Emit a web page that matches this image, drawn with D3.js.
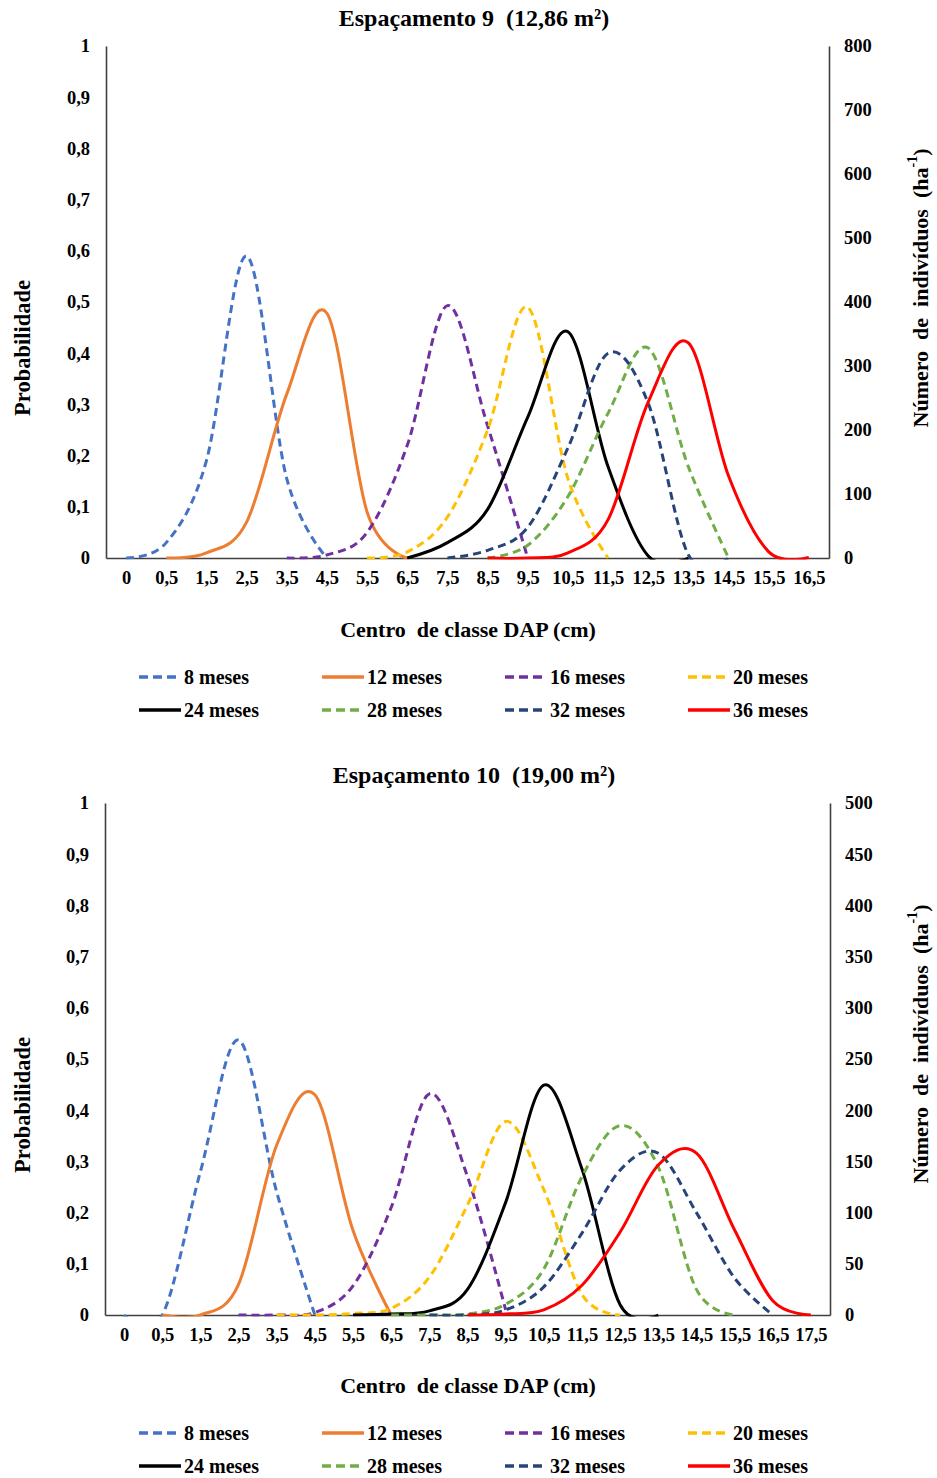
<!DOCTYPE html>
<html>
<head>
<meta charset="utf-8">
<script src="https://cdn.jsdelivr.net/npm/d3@7"></script>
<style>
  body { margin: 0; background: #fff; }
  svg { display: block; }
  text { font-family: "Liberation Serif", "Times New Roman", serif; font-weight: bold; fill: #000; white-space: pre; }
</style>
</head>
<body>
<svg id="chart" width="937" height="1478"></svg>
<script>
// ---- Data -------------------------------------------------------------
const seriesNames = ["8 meses", "12 meses", "16 meses", "20 meses",
                     "24 meses", "28 meses", "32 meses", "36 meses"];

const probTicks = [0, 0.1, 0.2, 0.3, 0.4, 0.5, 0.6, 0.7, 0.8, 0.9, 1];

// Espaçamento 9 (12,86 m²)
const classes9 = ["0", "0,5", "1,5", "2,5", "3,5", "4,5", "5,5", "6,5", "7,5",
                  "8,5", "9,5", "10,5", "11,5", "12,5", "13,5", "14,5", "15,5", "16,5"];
const ind9Ticks = [0, 100, 200, 300, 400, 500, 600, 700, 800];
const e9m08 = [0, 0.03, 0.19, 0.59, 0.155, 0, null, null, null, null, null, null, null, null, null, null, null, null];
const e9m12 = [null, 0, 0.01, 0.07, 0.32, 0.478, 0.09, 0, null, null, null, null, null, null, null, null, null, null];
const e9m16 = [null, null, null, null, 0, 0.006, 0.05, 0.22, 0.493, 0.258, 0, null, null, null, null, null, null, null];
const e9m20 = [null, null, null, null, null, null, 0, 0.012, 0.08, 0.25, 0.49, 0.155, 0, null, null, null, null, null];
const e9m24 = [null, null, null, null, null, null, null, 0, 0.03, 0.095, 0.275, 0.442, 0.178, 0.004, 0, null, null, null];
const e9m28 = [null, null, null, null, null, null, null, null, null, 0, 0.025, 0.12, 0.283, 0.41, 0.178, 0, null, null];
const e9m32 = [null, null, null, null, null, null, null, null, 0, 0.015, 0.06, 0.215, 0.4, 0.302, 0.006, 0, null, null];
const e9m36 = [null, null, null, null, null, null, null, null, null, 0, 0, 0.01, 0.075, 0.305, 0.42, 0.16, 0.012, 0.001];

// Espaçamento 10 (19,00 m²)
const classes10 = ["0", "0,5", "1,5", "2,5", "3,5", "4,5", "5,5", "6,5", "7,5", "8,5",
                   "9,5", "10,5", "11,5", "12,5", "13,5", "14,5", "15,5", "16,5", "17,5"];
const ind10Ticks = [0, 50, 100, 150, 200, 250, 300, 350, 400, 450, 500];
const e10m08 = [0, 0, 0.28, 0.537, 0.24, 0, null, null, null, null, null, null, null, null, null, null, null, null, null];
const e10m12 = [null, 0, 0, 0.06, 0.332, 0.43, 0.165, 0, null, null, null, null, null, null, null, null, null, null, null];
const e10m16 = [null, null, null, 0, 0, 0.005, 0.057, 0.21, 0.432, 0.27, 0.01, null, null, null, null, null, null, null, null];
const e10m20 = [null, null, null, null, 0, 0, 0.003, 0.013, 0.074, 0.215, 0.378, 0.245, 0.04, 0, null, null, null, null, null];
const e10m24 = [null, null, null, null, null, null, 0, 0.002, 0.008, 0.05, 0.22, 0.449, 0.285, 0.02, 0, null, null, null, null];
const e10m28 = [null, null, null, null, null, null, null, 0, 0, 0.002, 0.021, 0.09, 0.27, 0.37, 0.289, 0.05, 0, null, null];
const e10m32 = [null, null, null, null, null, null, null, null, 0, 0, 0.01, 0.055, 0.16, 0.283, 0.316, 0.2, 0.072, 0, null];
const e10m36 = [null, null, null, null, null, null, null, null, null, 0, 0.002, 0.01, 0.058, 0.162, 0.293, 0.316, 0.166, 0.028, 0];

// ---- Styles -----------------------------------------------------------
const seriesColors = ["#4472C4", "#ED7D31", "#7030A0", "#FFC000",
                      "#000000", "#70AD47", "#264478", "#FF0000"];
const seriesDash = ["8,5", null, "8,5", "8,5", null, "8,5", "8,5", null];
const AXIS_COLOR = "#404040";

const svg = d3.select("#chart");
const fmt = d => String(d).replace(".", ",");

function drawPanel(cfg) {
  const g = svg.append("g");
  const { left, right, top, bottom } = cfg;

  const x = d3.scalePoint().domain(cfg.classes).range([left, right]).padding(0.5);
  const y = d3.scaleLinear().domain([0, 1]).range([bottom, top]);
  const yR = d3.scaleLinear().domain([0, d3.max(cfg.rightTicks)]).range([bottom, top]);

  // Title
  g.append("text")
    .attr("x", cfg.titleX).attr("y", cfg.titleY)
    .attr("text-anchor", "middle")
    .style("font-size", "24px")
    .text(cfg.title);

  // Axes
  const axL = g.append("g").attr("transform", `translate(${left},0)`)
    .call(d3.axisLeft(y).tickValues(probTicks).tickFormat(fmt).tickSize(0).tickSizeOuter(0).tickPadding(16));
  const axR = g.append("g").attr("transform", `translate(${right},0)`)
    .call(d3.axisRight(yR).tickValues(cfg.rightTicks).tickSize(0).tickSizeOuter(0).tickPadding(15));
  const axB = g.append("g").attr("transform", `translate(0,${bottom})`)
    .call(d3.axisBottom(x).tickSize(0).tickSizeOuter(0).tickPadding(13));
  [axL, axR, axB].forEach(a => {
    a.select(".domain").attr("stroke", AXIS_COLOR).attr("stroke-width", 1.6);
    a.selectAll("text").style("font-size", "18.5px").style("font-family", null).attr("fill", "#000");
  });

  // Axis titles
  g.append("text")
    .attr("transform", `translate(${cfg.leftTitle[0]},${cfg.leftTitle[1]}) rotate(-90)`)
    .attr("text-anchor", "middle").attr("dominant-baseline", "central")
    .style("font-size", "22.5px")
    .text("Probabilidade");
  const rt = g.append("text")
    .attr("transform", `translate(${cfg.rightTitle[0]},${cfg.rightTitle[1]}) rotate(-90)`)
    .attr("text-anchor", "middle").attr("dominant-baseline", "central")
    .style("font-size", "22px");
  rt.append("tspan").text("Número  de  indivíduos  (ha");
  rt.append("tspan").attr("baseline-shift", "super").style("font-size", "14px").text("-1");
  rt.append("tspan").text(")");

  g.append("text")
    .attr("x", cfg.xTitle[0]).attr("y", cfg.xTitle[1])
    .attr("text-anchor", "middle")
    .style("font-size", "22px")
    .text("Centro  de classe DAP (cm)");

  // Curves, clipped to the plot area like the smoothed spreadsheet lines
  const clipId = "clip-" + cfg.id;
  g.append("clipPath").attr("id", clipId)
    .append("rect")
    .attr("x", left).attr("y", top - 4)
    .attr("width", right - left).attr("height", bottom - top + 5.5);

  const line = d3.line()
    .defined(d => d.v != null)
    .x(d => x(d.c))
    .y(d => y(d.v))
    .curve(d3.curveCatmullRom.alpha(0));

  const plot = g.append("g").attr("clip-path", `url(#${clipId})`);
  cfg.series.forEach((vals, i) => {
    const pts = vals.map((v, k) => ({ c: cfg.classes[k], v }));
    plot.append("path")
      .datum(pts)
      .attr("fill", "none")
      .attr("stroke", seriesColors[i])
      .attr("stroke-width", 3)
      .attr("stroke-dasharray", seriesDash[i])
      .attr("stroke-linejoin", "round")
      .attr("d", line);
  });

  // Legend (2 rows x 4 columns)
  const colX = [139, 322, 505, 688];
  seriesNames.forEach((name, i) => {
    const cx = colX[i % 4];
    const cy = cfg.legendY[Math.floor(i / 4)];
    g.append("line")
      .attr("x1", cx).attr("x2", cx + 42)
      .attr("y1", cy).attr("y2", cy)
      .attr("stroke", seriesColors[i])
      .attr("stroke-width", 3.5)
      .attr("stroke-dasharray", seriesDash[i] ? "9,5" : null);
    g.append("text")
      .attr("x", cx + 45).attr("y", cy)
      .attr("dominant-baseline", "central")
      .style("font-size", "20px")
      .text(name);
  });
}

drawPanel({
  id: "e9",
  title: "Espaçamento 9  (12,86 m²)",
  titleX: 474, titleY: 26,
  left: 106, right: 829, top: 46, bottom: 558,
  classes: classes9,
  rightTicks: ind9Ticks,
  series: [e9m08, e9m12, e9m16, e9m20, e9m24, e9m28, e9m32, e9m36],
  leftTitle: [22, 348],
  rightTitle: [920, 288],
  xTitle: [468, 637],
  legendY: [677, 710]
});

drawPanel({
  id: "e10",
  title: "Espaçamento 10  (19,00 m²)",
  titleX: 474, titleY: 783,
  left: 105, right: 830, top: 803, bottom: 1315,
  classes: classes10,
  rightTicks: ind10Ticks,
  series: [e10m08, e10m12, e10m16, e10m20, e10m24, e10m28, e10m32, e10m36],
  leftTitle: [22, 1105],
  rightTitle: [920, 1044],
  xTitle: [468, 1393],
  legendY: [1433, 1466]
});
</script>
</body>
</html>
